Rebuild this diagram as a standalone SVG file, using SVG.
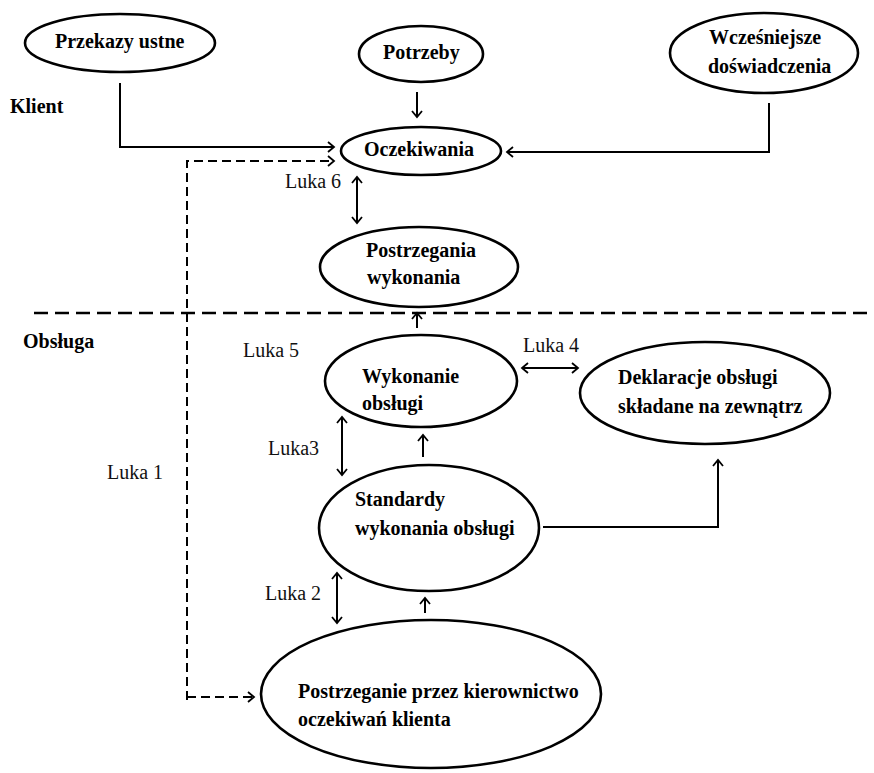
<svg xmlns="http://www.w3.org/2000/svg" width="874" height="773" viewBox="0 0 874 773">
  <defs>
    <marker id="chev" viewBox="0 0 12 12" refX="10" refY="6" markerWidth="12" markerHeight="12" markerUnits="userSpaceOnUse" orient="auto-start-reverse">
      <path d="M4,1 L10,6 L4,11" fill="none" stroke="#000" stroke-width="1.8"/>
    </marker>
  </defs>
  <style>
    .node ellipse { fill: #fff; stroke: #000; stroke-width: 2.6; }
    .lbl { font-family: "Liberation Serif", "Times New Roman", serif; font-size: 20px; font-weight: bold; fill: #000; }
    .gap { font-family: "Liberation Serif", "Times New Roman", serif; font-size: 20px; fill: #111; }
    .conn { fill: none; stroke: #000; stroke-width: 2; }
    .arr { marker-end: url(#chev); }
    .dbl { marker-start: url(#chev); marker-end: url(#chev); }
    .dash { stroke-dasharray: 9 5; }
    .sep { fill: none; stroke: #000; stroke-width: 2.4; stroke-dasharray: 14 7; }
  </style>
  <rect width="874" height="773" fill="#fff"/>

  <!-- zone divider and zone titles -->
  <line class="sep" x1="34" y1="313" x2="874" y2="313"/>
  <text class="lbl" x="10" y="113">Klient</text>
  <text class="lbl" x="23" y="348">Obsługa</text>

  <!-- connectors -->
  <g id="connectors">
    <polyline class="conn arr" points="120,83 120,147 334,147"/>
    <polyline class="conn arr dash" points="187,700 187,161 334,161"/>
    <line class="conn arr dash" x1="187" y1="697" x2="254" y2="697"/>
    <line class="conn arr" x1="417" y1="92" x2="417" y2="117"/>
    <polyline class="conn arr" points="769,103 769,152 507,152"/>
    <line class="conn dbl" x1="357" y1="177" x2="357" y2="223"/>
    <line class="conn arr" x1="417" y1="328" x2="417" y2="313"/>
    <line class="conn dbl" x1="522" y1="368" x2="578" y2="368"/>
    <line class="conn dbl" x1="342" y1="417" x2="342" y2="475"/>
    <line class="conn arr" x1="423" y1="457" x2="423" y2="435"/>
    <polyline class="conn arr" points="543,527 718,527 718,460"/>
    <line class="conn dbl" x1="337" y1="573" x2="337" y2="623"/>
    <line class="conn arr" x1="425" y1="613" x2="425" y2="598"/>
  </g>

  <!-- gap labels -->
  <text class="gap" x="285" y="188">Luka 6</text>
  <text class="gap" x="243" y="357">Luka 5</text>
  <text class="gap" x="523" y="352">Luka 4</text>
  <text class="gap" x="268" y="455">Luka3</text>
  <text class="gap" x="265" y="600">Luka 2</text>
  <text class="gap" x="107" y="479">Luka 1</text>

  <!-- nodes -->
  <g id="przekazy" class="node">
    <ellipse cx="120" cy="43" rx="95" ry="29"/>
    <text class="lbl" x="55" y="48">Przekazy ustne</text>
  </g>
  <g id="potrzeby" class="node">
    <ellipse cx="421" cy="54" rx="62" ry="28"/>
    <text class="lbl" x="383" y="59">Potrzeby</text>
  </g>
  <g id="doswiadczenia" class="node">
    <ellipse cx="764" cy="53" rx="94" ry="40"/>
    <text class="lbl" x="709" y="44">Wcześniejsze</text>
    <text class="lbl" x="708" y="73">doświadczenia</text>
  </g>
  <g id="oczekiwania" class="node">
    <ellipse cx="421" cy="151" rx="80" ry="24"/>
    <text class="lbl" x="364" y="156">Oczekiwania</text>
  </g>
  <g id="postrzegania" class="node">
    <ellipse cx="419" cy="267" rx="99" ry="40"/>
    <text class="lbl" x="366" y="257">Postrzegania</text>
    <text class="lbl" x="367" y="284">wykonania</text>
  </g>
  <g id="wykonanie" class="node">
    <ellipse cx="421" cy="381" rx="96" ry="46"/>
    <text class="lbl" x="362" y="383">Wykonanie</text>
    <text class="lbl" x="362" y="410">obsługi</text>
  </g>
  <g id="deklaracje" class="node">
    <ellipse cx="705" cy="393" rx="125" ry="51"/>
    <text class="lbl" x="618" y="384">Deklaracje obsługi</text>
    <text class="lbl" x="618" y="413">składane na zewnątrz</text>
  </g>
  <g id="standardy" class="node">
    <ellipse cx="429" cy="528" rx="110" ry="63"/>
    <text class="lbl" x="355" y="506">Standardy</text>
    <text class="lbl" x="355" y="535">wykonania obsługi</text>
  </g>
  <g id="kierownictwo" class="node">
    <ellipse cx="431" cy="694" rx="170" ry="74"/>
    <text class="lbl" x="298" y="698">Postrzeganie przez kierownictwo</text>
    <text class="lbl" x="298" y="726">oczekiwań klienta</text>
  </g>
</svg>
